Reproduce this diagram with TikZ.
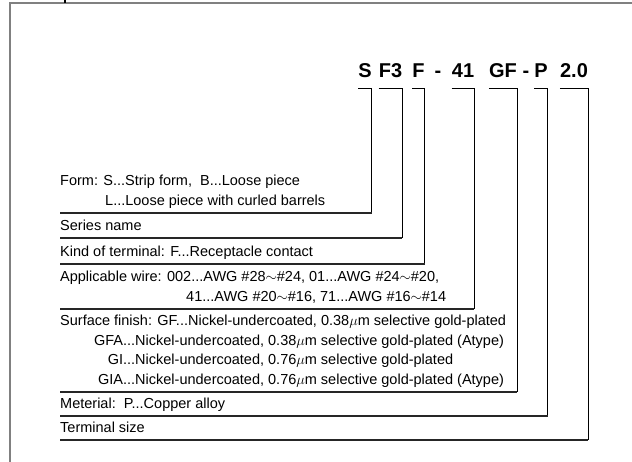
\documentclass[tikz,border=0pt]{standalone}
\usepackage{fontspec}
\setmainfont{Liberation Sans}
\usetikzlibrary{calc}
\tikzset{
  code/.style    = {inner sep=0pt, anchor=base, text depth=10pt,
                    font=\fontsize{20}{24}\selectfont\bfseries},
  desc/.style    = {inner xsep=0pt, inner ysep=1.6pt, anchor=south west, align=left,
                    font=\fontsize{14.5}{19.5}\selectfont, execute at end node=\strut},
  bracket/.style = {line width=0.9pt},
  rule/.style    = {line width=1.5pt, black!85},
  frame/.style   = {line width=1.4pt, black!50},
}

\begin{document}
\begin{tikzpicture}[x=1pt, y=-1pt]
    \useasboundingbox (0,0) rectangle (632,462);

    %% Outer frame
    \draw[frame] (10,462) -- (10,3) -- (632,3);
    \draw[line width=1.2pt] (65,0) -- (65,3);

    %% Part number
    \node[code] (cS)  at (365,78)   {S};
    \node[code] (cF3) at (390.5,78) {F3};
    \node[code] (cF)  at (418.5,78) {F};
    \node[code] (cDa) at (438,78)   {-};
    \node[code] (c41) at (463,78)   {41};
    \node[code] (cGF) at (503,78)   {GF};
    \node[code] (cDb) at (526,78)   {-};
    \node[code] (cP)  at (541,78)   {P};
    \node[code] (c20) at (574,78)   {2.0};

    %% Descriptions
    \node[desc] (dForm) at (60,213) {Form: S...Strip form,\ \ B...Loose piece\\
      \hspace*{45pt}L...Loose piece with curled barrels};
    \node[desc] (dSer)  at (60,238) {Series name};
    \node[desc] (dKind) at (60,264) {Kind of terminal: F...Receptacle contact};
    \node[desc] (dWire) at (60,309) {Applicable wire: 002...AWG \#28$\sim$\#24, 01...AWG \#24$\sim$\#20,\\
      \hspace*{126pt}41...AWG \#20$\sim$\#16, 71...AWG \#16$\sim$\#14};
    \node[desc] (dSurf) at (60,392) {Surface finish: GF...Nickel-undercoated, 0.38$\mu$m selective gold-plated\\
      \makebox[75pt][r]{GFA...}Nickel-undercoated, 0.38$\mu$m selective gold-plated (Atype)\\
      \makebox[75pt][r]{GI...}Nickel-undercoated, 0.76$\mu$m selective gold-plated\\
      \makebox[75pt][r]{GIA...}Nickel-undercoated, 0.76$\mu$m selective gold-plated (Atype)};
    \node[desc] (dMat)  at (60,416) {Meterial:\ \ P...Copper alloy};
    \node[desc] (dSize) at (60,440) {Terminal size};

    %% Brackets
    \draw[bracket] (cS.south west)  -- (cS.south east)  -- (cS.south east |- dForm.south);
    \draw[bracket] (cF3.south west) -- (cF3.south east) -- (cF3.south east |- dSer.south);
    \draw[bracket] (cF.south west)  -- (cF.south east)  -- (cF.south east |- dKind.south);
    \draw[bracket] (c41.south west) -- (c41.south east) -- (c41.south east |- dWire.south);
    \draw[bracket] (cGF.south west) -- (cGF.south east) -- (cGF.south east |- dSurf.south);
    \draw[bracket] (cP.south west)  -- (cP.south east)  -- (cP.south east |- dMat.south);
    \draw[bracket] (c20.south west) -- (c20.south east) -- (c20.south east |- dSize.south);

    %% Rules under descriptions
    \draw[rule] (dForm.south west) -- (dForm.south west -| cS.south east);
    \draw[rule] (dSer.south west)  -- (dSer.south west -| cF3.south east);
    \draw[rule] (dKind.south west) -- (dKind.south west -| cF.south east);
    \draw[rule] (dWire.south west) -- (dWire.south west -| c41.south east);
    \draw[rule] (dSurf.south west) -- (dSurf.south west -| cGF.south east);
    \draw[rule] (dMat.south west)  -- (dMat.south west -| cP.south east);
    \draw[rule] (dSize.south west) -- (dSize.south west -| c20.south east);

\end{tikzpicture}
\end{document}
